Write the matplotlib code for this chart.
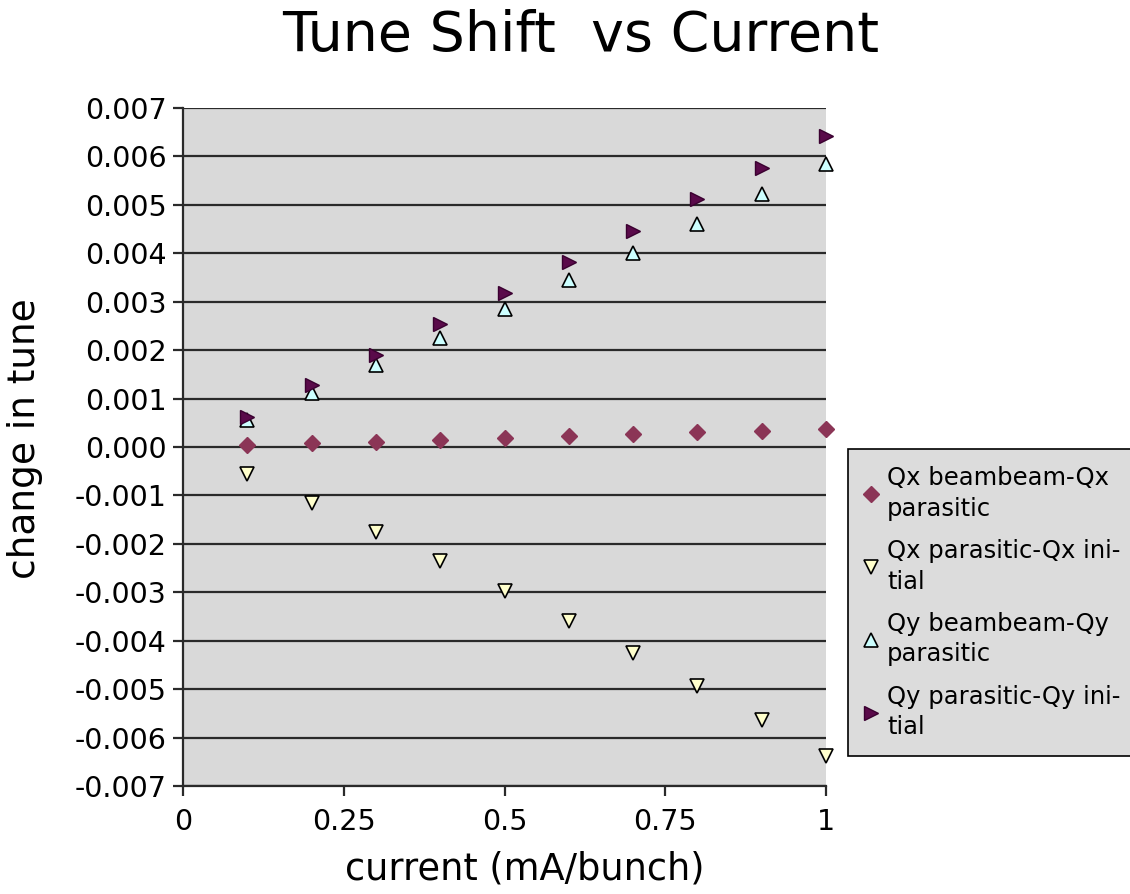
import numpy as np
import matplotlib
matplotlib.use('Agg')
from matplotlib import pyplot as plt

# data
current = [0.1, 0.2, 0.3, 0.4, 0.5, 0.6, 0.7, 0.8, 0.9, 1.0]
qx_bb = [0.00004, 0.00008, 0.00011, 0.00015, 0.00019, 0.00023, 0.00027, 0.00030, 0.00034, 0.00038]
qx_par = [-0.00055, -0.00115, -0.00175, -0.00236, -0.00297, -0.00360, -0.00425, -0.00494, -0.00564, -0.00639]
qy_bb = [0.00056, 0.00111, 0.00169, 0.00226, 0.00284, 0.00344, 0.00401, 0.00461, 0.00522, 0.00584]
qy_par = [0.00062, 0.00128, 0.00189, 0.00255, 0.00317, 0.00383, 0.00447, 0.00512, 0.00576, 0.00642]

labels = ['Qx beambeam-Qx\nparasitic', 'Qx parasitic-Qx ini-\ntial',
          'Qy beambeam-Qy\nparasitic', 'Qy parasitic-Qy ini-\ntial']
xticks = [0, 0.25, 0.5, 0.75, 1]
xticklabels = ['0', '0.25', '0.5', '0.75', '1']
yticks = np.arange(-0.007, 0.0071, 0.001)

plt.rcParams['font.family'] = ['DejaVu Sans']

fig = plt.figure(figsize=(11.3, 8.94), dpi=100)
ax = fig.add_axes([0.162, 0.1208, 0.569, 0.7584])
ax.set_facecolor('#d9d9d9')

ax.plot(current, qx_bb, 'D', ms=8.5, mfc='#8b3556', mec='#8b3556', clip_on=False, zorder=5, label=labels[0])
ax.plot(current, qx_par, 'v', ms=10, mfc='#ffffcc', mec='black', mew=1.2, clip_on=False, zorder=5, label=labels[1])
ax.plot(current, qy_bb, '^', ms=10, mfc='#ccffff', mec='black', mew=1.2, clip_on=False, zorder=5, label=labels[2])
ax.plot(current, qy_par, '>', ms=10, mfc='#5a0a4a', mec='#3a0030', mew=1.0, clip_on=False, zorder=6, label=labels[3])

ax.set_xlim(0, 1)
ax.set_ylim(-0.007, 0.007)
ax.set_xticks(xticks)
ax.set_xticklabels(xticklabels)
ax.set_yticks(yticks)
ax.set_yticklabels(['%.3f' % v if abs(v) > 1e-9 else '0.000' for v in yticks])
ax.yaxis.grid(True, color='#2a2a2a', lw=1.6)
ax.set_axisbelow(True)

for s in ['top', 'right']:
    ax.spines[s].set_visible(False)
for s in ['left', 'bottom']:
    ax.spines[s].set_color('#2a2a2a')
    ax.spines[s].set_linewidth(1.6)
ax.tick_params(direction='out', length=7, width=1.6, color='#2a2a2a', labelsize=20.5)
ax.tick_params(axis='y', pad=5)
ax.tick_params(axis='x', pad=9)

ax.set_xlabel('current (mA/bunch)', fontsize=26.5)
ax.set_ylabel('change in tune', fontsize=27)
ax.xaxis.set_label_coords(0.532, -0.095)
ax.yaxis.set_label_coords(-0.218, 0.513)
fig.suptitle('Tune Shift  vs Current', fontsize=40, x=0.514, y=0.99)

leg = fig.legend(loc='upper left', bbox_to_anchor=(848 / 1130, 1 - 449 / 894), fontsize=17.5,
                 frameon=True, fancybox=False, framealpha=1, borderpad=0.7, handletextpad=0.4,
                 handlelength=0.5, labelspacing=0.75, numpoints=1, borderaxespad=0)
for t in leg.get_texts():
    t.set_linespacing(1.35)
leg.get_frame().set_facecolor('#dcdcdc')
leg.get_frame().set_edgecolor('black')
leg.get_frame().set_linewidth(1.2)

plt.savefig('out.png', dpi=100)
